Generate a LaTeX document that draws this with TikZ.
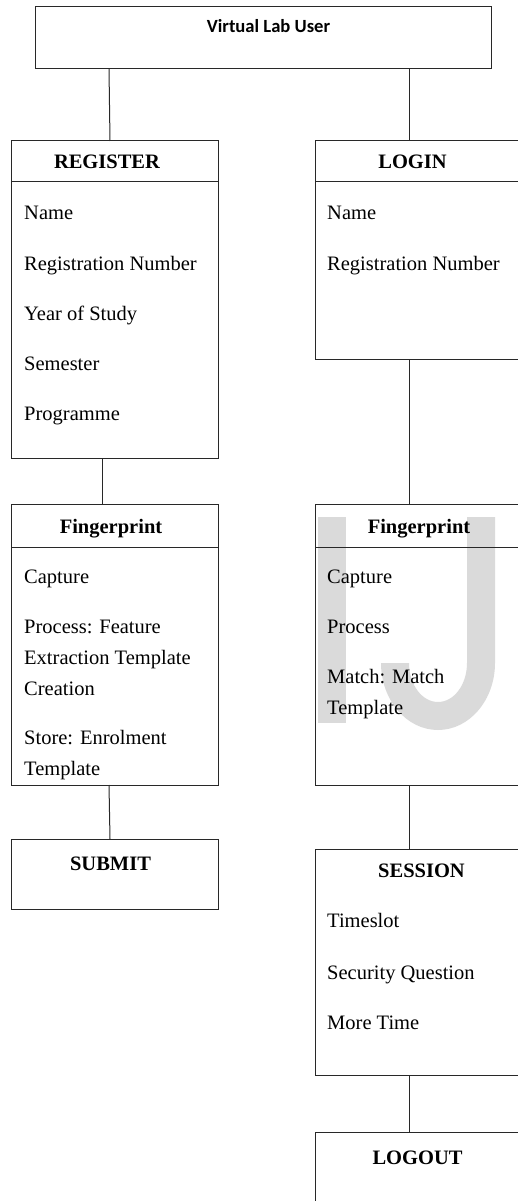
\documentclass[tikz,border=0pt]{standalone}
\usepackage{fontspec}
\setmainfont{Liberation Serif}
\newfontfamily\calibrifont{Carlito}
\definecolor{linec}{RGB}{40,40,40}
\definecolor{wmark}{RGB}{218,218,218}
\begin{document}
\begin{tikzpicture}[x=1pt,y=1pt,
  box/.style={draw=linec, line width=1pt, inner sep=0pt, outer sep=0pt, rectangle},
  conn/.style={draw=linec, line width=1pt},
  item/.style={anchor=base west, inner sep=0pt, font=\fontsize{20.5}{31}\selectfont},
  head/.style={anchor=base, inner sep=0pt, font=\fontsize{20.5}{31}\selectfont\bfseries},
  toptext/.style={anchor=base, inner sep=0pt, font=\calibrifont\fontsize{18.6}{22}\selectfont\bfseries}]
\useasboundingbox (0,0) rectangle (518,-1201);
\clip (0,0) rectangle (518,-1201);
% watermark
\fill[wmark] (318,-517) rectangle (346,-723);
\fill[wmark] (467,-517) -- (495,-517) -- (495,-663)
  arc[start angle=0, end angle=-180, x radius=57, y radius=67] -- (409,-663)
  arc[start angle=180, end angle=360, x radius=29, y radius=39] -- cycle;
% boxes
\node[box, minimum width=456pt, minimum height=62pt] (top) at (263,-38) {};
\node[box, minimum width=207pt, minimum height=317pt] (reg) at (114.5,-299.5) {};
\node[box, minimum width=215pt, minimum height=218pt] (login) at (422.5,-250) {};
\node[box, minimum width=207pt, minimum height=281pt] (fpl) at (114.5,-644.5) {};
\node[box, minimum width=215pt, minimum height=281pt] (fpr) at (422.5,-644.5) {};
\node[box, minimum width=207pt, minimum height=70pt] (submit) at (114.5,-874) {};
\node[box, minimum width=215pt, minimum height=226pt] (session) at (422.5,-962) {};
\node[box, minimum width=215pt, minimum height=100pt] (logout) at (422.5,-1182) {};
% header separators
\draw[conn] ([yshift=-41pt]reg.north west) -- ([yshift=-41pt]reg.north east);
\draw[conn] ([yshift=-41pt]login.north west) -- ([yshift=-41pt]login.north east);
\draw[conn] ([yshift=-43pt]fpl.north west) -- ([yshift=-43pt]fpl.north east);
\draw[conn] ([yshift=-43pt]fpr.north west) -- ([yshift=-43pt]fpr.north east);
% connectors
\draw[conn] ([xshift=74pt]top.south west) -- ([xshift=99pt]reg.north west);
\draw[conn] ([xshift=374pt]top.south west) -- ([xshift=94pt]login.north west);
\draw[conn] ([xshift=91pt]reg.south west) -- ([xshift=91pt]fpl.north west);
\draw[conn] ([xshift=94pt]login.south west) -- ([xshift=94pt]fpr.north west);
\draw[conn] ([xshift=98pt]fpl.south west) -- ([xshift=99pt]submit.north west);
\draw[conn] ([xshift=94pt]fpr.south west) -- ([xshift=94pt]session.north west);
\draw[conn] ([xshift=94pt]session.south west) -- ([xshift=94pt]logout.north west);
% texts
\node[toptext] (t0) at (268.5,-33) {Virtual Lab User};
\node[head] (h1) at (107,-169) {REGISTER};
\node[item] (r1) at (24,-219) {Name};
\node[item] (r2) at (24,-270) {Registration Number};
\node[item] (r3) at (24,-320) {Year of Study};
\node[item] (r4) at (24,-370) {Semester};
\node[item] (r5) at (24,-420) {Programme};
\node[head] (h2) at (412.5,-169) {LOGIN};
\node[item] (l1) at (327,-219) {Name};
\node[item] (l2) at (327,-270) {Registration Number};
\node[head] (h3) at (111,-533) {Fingerprint};
\node[item] (f1) at (24,-583) {Capture};
\node[item] (f2) at (24,-633) {Process: Feature};
\node[item] (f3) at (24,-664) {Extraction Template};
\node[item] (f4) at (24,-695) {Creation};
\node[item] (f5) at (24,-744) {Store: Enrolment};
\node[item] (f6) at (24,-775) {Template};
\node[head] (h4) at (419,-533) {Fingerprint};
\node[item] (g1) at (327,-583) {Capture};
\node[item] (g2) at (327,-633) {Process};
\node[item] (g3) at (327,-683) {Match: Match};
\node[item] (g4) at (327,-714) {Template};
\node[head] (h5) at (110.5,-870) {SUBMIT};
\node[head] (h6) at (421.5,-877) {SESSION};
\node[item] (s1) at (327,-927) {Timeslot};
\node[item] (s2) at (327,-979) {Security Question};
\node[item] (s3) at (327,-1029) {More Time};
\node[head] (h7) at (417.5,-1164) {LOGOUT};
\end{tikzpicture}
\end{document}
